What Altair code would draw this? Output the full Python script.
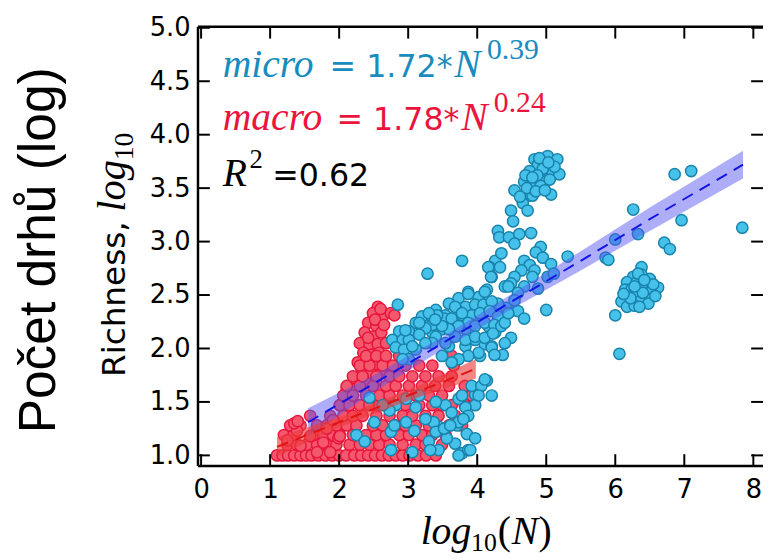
import altair as alt
import pandas as pd

# ---------------- data ----------------
micro_pts = [
    # upper cluster
    (4.83,3.77),(5.02,3.80),(5.16,3.77),(4.88,3.72),(5.00,3.72),(5.07,3.67),(4.76,3.66),(4.95,3.63),
    (5.09,3.63),(5.19,3.63),(4.68,3.56),(4.83,3.56),(4.97,3.56),(4.78,3.52),(4.92,3.52),(5.07,3.44),
    (4.54,3.48),(4.73,3.43),(4.80,3.43),(4.66,3.36),(4.49,3.29),(4.73,3.29),(4.52,3.19),(4.30,3.10),
    (4.32,3.04),(4.46,3.04),(4.61,3.07),(4.78,3.08),(4.54,2.98),(4.90,3.78),(4.95,3.68),(5.05,3.58),
    (4.87,3.62),(4.72,3.50),(4.85,3.47),(5.12,3.70),(4.98,3.48),(4.62,3.42),(4.70,3.62),(5.03,3.74),
    (4.80,3.60),
    # middle mass
    (4.92,2.95),(4.85,2.90),(4.95,2.85),(5.07,2.79),(4.68,2.82),(4.76,2.78),(4.83,2.73),(4.64,2.73),
    (4.54,2.67),(4.49,2.61),(4.40,2.58),(4.26,2.82),(4.35,2.89),(4.18,2.76),(4.21,2.67),(4.80,2.67),
    (4.88,2.56),(5.02,2.67),(5.11,2.70),(5.00,2.36),(4.68,2.58),(4.59,2.52),(4.49,2.35),(4.59,2.35),
    (4.42,2.38),(4.68,2.28),(4.30,2.42),(4.14,2.55),(4.03,2.48),(3.87,2.53),(3.73,2.47),(3.59,2.42),
    (3.83,2.39),(4.11,2.39),(4.30,2.24),(4.26,2.15),(4.49,2.10),(4.37,1.94),(4.11,2.04),(3.97,2.08),
    (3.71,2.36),(3.54,2.31),(3.40,2.36),(3.30,2.30),(3.20,2.25),(3.73,2.27),(4.07,2.30),(4.16,2.21),
    (3.83,2.18),(3.68,2.11),(3.49,2.18),(3.35,2.15),(3.59,2.02),(3.83,2.02),(4.04,1.93),(4.21,2.02),
    (3.35,2.22),(3.78,2.82),(3.28,2.70),(5.31,2.86),(4.16,2.76),(4.20,2.67),(4.33,2.76),
    (4.02,2.48),(4.11,2.53),(3.97,2.41),(4.09,2.41),(4.21,2.44),(3.68,2.39),(3.52,2.28),(3.63,2.28),
    (3.78,2.31),(3.92,2.31),(4.04,2.33),(4.18,2.35),(4.30,2.30),(3.87,2.24),(3.97,2.21),(4.11,2.24),
    (4.25,2.22),(3.73,2.21),(3.59,2.18),(3.49,2.21),(3.42,2.31),(3.11,2.24),(3.25,2.19),(3.01,2.16),
    (2.87,2.16),(2.77,2.08),(2.92,2.08),(3.01,2.08),(2.82,2.01),(2.94,1.99),(3.16,2.13),(3.40,2.11),
    (3.54,2.05),(3.83,2.08),(3.97,2.11),(4.11,2.10),(4.23,2.14),(4.35,2.21),(4.21,2.01),(4.02,1.96),
    (3.87,1.93),(3.73,1.90),(3.63,1.87),(3.49,1.93),(3.35,2.05),(3.25,2.05),(3.11,1.99),(3.01,1.90),
    (2.92,1.90),(2.85,2.41),(4.25,1.94),(2.96,2.17),(3.06,2.02),(3.20,2.30),(3.30,2.33),(3.16,2.24),
    (3.39,2.27),(3.78,2.33),(3.87,2.51),(4.45,2.58),(4.54,2.45),(4.40,2.24),(4.40,2.05),(4.45,2.33),
    # lower part
    (4.14,1.70),(4.21,1.56),(3.97,1.57),(3.97,1.47),(3.83,1.45),(3.87,1.37),(3.73,1.53),(3.54,1.47),
    (3.40,1.50),(3.63,1.40),(3.71,1.28),(3.85,1.20),(3.97,1.16),(3.68,1.11),(3.56,1.16),(3.44,1.27),
    (3.37,1.31),(3.25,1.34),(3.11,1.45),(3.16,1.56),(2.97,1.53),(2.82,1.47),(2.73,1.42),(2.63,1.47),
    (2.75,1.22),(2.97,1.31),(3.09,1.23),(3.40,1.22),(3.30,1.13),(3.52,1.25),(3.44,1.05),(3.32,1.05),
    (3.06,1.03),(3.78,1.02),(3.87,1.05),(2.75,1.05),(3.73,1.31),(3.61,1.28),(3.80,1.34),(3.92,1.65),
    (4.06,1.65),(4.11,1.71),(4.02,1.56),(3.78,1.56),(3.73,1.00),(3.90,1.05),(2.25,1.19),(2.37,1.13),
    (2.80,1.28),(2.44,1.54),(2.51,1.31),
    # right side
    (5.86,2.85),(5.90,2.83),(6.00,3.02),(6.26,3.30),(6.33,3.07),(6.86,3.63),(7.10,3.66),(6.96,3.20),
    (6.71,2.99),(6.79,2.93),(7.84,3.13),(6.00,2.31),(6.06,1.95),
    (6.38,2.76),(6.26,2.67),(6.38,2.69),(6.50,2.65),(6.17,2.62),(6.31,2.62),(6.45,2.61),(6.62,2.57),
    (6.14,2.55),(6.24,2.56),(6.38,2.58),(6.52,2.53),(6.19,2.49),(6.31,2.50),(6.45,2.47),(6.09,2.44),
    (6.24,2.42),(6.36,2.44),(6.48,2.42),(6.17,2.39),(6.28,2.40),(6.40,2.52),(6.55,2.60),(6.33,2.70),
    (6.22,2.47),(6.42,2.64),(6.28,2.58),(6.58,2.49),(6.12,2.51),(6.35,2.39),
]

macro_pts = [
    # tall column
    (2.56,2.39),(2.49,2.33),(2.63,2.30),(2.42,2.24),(2.54,2.21),(2.37,2.15),(2.49,2.11),(2.61,2.15),
    (2.30,2.05),(2.44,2.04),(2.56,2.04),(2.35,1.96),(2.46,1.94),(2.58,1.96),(2.27,1.87),(2.39,1.87),
    (2.51,1.85),(2.32,1.77),(2.46,1.77),(2.61,1.77),(2.25,1.68),(2.39,1.68),(2.54,1.68),(2.63,1.62),
    (2.11,1.62),(2.20,1.62),(2.08,1.56),(2.18,1.53),(2.01,1.47),(2.13,1.47),(2.75,2.33),(2.80,2.31),
    (2.60,2.37),(2.52,2.27),(2.65,2.22),(2.42,2.10),(2.68,2.05),(2.62,1.90),(2.70,1.85),
    # floor
    (1.10,1.00),(1.18,1.00),(1.26,1.00),(1.35,1.00),(1.44,1.00),(1.52,1.00),(1.60,1.00),(1.70,1.00),
    (1.80,1.00),(1.90,1.00),(2.00,1.00),(2.10,1.00),(2.22,1.00),(2.32,1.00),(2.42,1.00),(2.52,1.00),
    (2.62,1.00),(2.72,1.00),(2.82,1.00),(2.92,1.00),(3.02,1.00),(3.14,1.00),(3.26,1.00),(3.40,1.00),
    # rows
    (1.25,1.10),(1.39,1.10),(1.53,1.10),(1.68,1.10),(1.82,1.10),(1.96,1.10),(2.15,1.10),(2.30,1.10),
    (2.44,1.10),(2.58,1.10),(2.73,1.10),(2.92,1.10),(3.11,1.10),(3.25,1.10),(3.49,1.10),
    (1.20,1.19),(1.34,1.19),(1.63,1.19),(1.77,1.19),(1.91,1.19),(2.01,1.19),(2.20,1.19),(2.39,1.19),
    (2.54,1.19),(2.68,1.19),(2.87,1.19),(3.01,1.19),(3.20,1.19),(3.35,1.19),(3.54,1.19),
    (1.29,1.28),(1.44,1.28),(1.68,1.28),(1.82,1.28),(1.96,1.28),(2.11,1.28),(2.25,1.28),(2.49,1.28),
    (2.63,1.28),(2.82,1.28),(2.96,1.28),(3.11,1.28),(3.30,1.28),(3.59,1.28),(3.78,1.28),
    (1.58,1.37),(1.87,1.37),(2.06,1.37),(2.20,1.37),(2.34,1.37),(2.54,1.37),(2.73,1.37),(2.92,1.37),
    (3.06,1.37),(3.25,1.37),(3.44,1.37),(3.68,1.37),
    (2.01,1.47),(2.15,1.47),(2.30,1.47),(2.44,1.47),(2.58,1.47),(2.78,1.47),(2.96,1.47),(3.16,1.47),
    (3.35,1.47),(3.49,1.47),(3.63,1.47),(3.82,1.47),
    (2.06,1.56),(2.20,1.56),(2.39,1.56),(2.58,1.56),(2.73,1.56),(2.92,1.56),(3.11,1.56),(3.30,1.56),
    (3.49,1.56),(3.78,1.56),(3.92,1.56),
    (2.11,1.65),(2.30,1.65),(2.49,1.65),(2.68,1.65),(2.82,1.65),(3.01,1.65),(3.20,1.65),(3.39,1.65),
    (3.59,1.65),(3.82,1.65),
    (2.20,1.74),(2.34,1.74),(2.54,1.74),(2.73,1.74),(2.87,1.74),(3.06,1.74),(3.25,1.74),(3.44,1.74),
    (3.63,1.74),
    (2.30,1.84),(2.44,1.84),(2.63,1.84),(2.78,1.84),(2.96,1.84),(3.16,1.84),(3.35,1.84),(3.66,1.84),
    (2.39,1.93),(2.54,1.93),(2.68,1.93),(2.87,1.93),(3.63,1.93),
    # left group
    (1.39,1.23),(1.25,1.14),(1.44,1.09),(1.58,1.18),(1.77,1.12),(1.68,1.03),(1.87,1.03),(1.99,1.16),
    (1.82,1.25),(1.91,1.33),(2.01,1.18),(1.35,1.30),(1.40,1.32),
]

# regression lines and confidence bands
micro_fit_x = [1.55, 2.5, 3.5, 4.5, 5.5, 6.5, 7.85]
micro_fit_y = [1.31, 1.67, 2.05, 2.44, 2.82, 3.21, 3.72]
micro_fit_lo = [1.18, 1.59, 1.99, 2.37, 2.73, 3.10, 3.59]
micro_fit_hi = [1.44, 1.75, 2.11, 2.51, 2.91, 3.32, 3.85]

macro_fit_x = [1.1, 2.0, 3.0, 3.98]
macro_fit_y = [1.08, 1.31, 1.56, 1.81]
macro_fit_lo = [0.99, 1.26, 1.51, 1.72]
macro_fit_hi = [1.17, 1.36, 1.61, 1.90]

x_ticks = [0, 1, 2, 3, 4, 5, 6, 7, 8]
y_ticks = [1.0, 1.5, 2.0, 2.5, 3.0, 3.5, 4.0, 4.5, 5.0]

# ---------------- styling ----------------
W, H = 571, 444
C_MICRO_FILL, C_MICRO_EDGE = "#45c1ea", "#1883ab"
C_MACRO_FILL, C_MACRO_EDGE = "#f4586e", "#e8163c"
C_MICRO_TXT, C_MACRO_TXT = "#198cbe", "#eb143c"
SERIF, SANS = "Liberation Serif", "DejaVu Sans"

xs = alt.Scale(domain=[-0.045, 8.14], nice=False, zero=False)
ys = alt.Scale(domain=[0.9, 5.01], nice=False, zero=False)
xaxis = alt.Axis(values=x_ticks, format="d", ticks=False, domain=False, grid=False,
                 labelPadding=11, title=None, labelFontSize=26, labelFont=SANS, labelColor="black")
yaxis = alt.Axis(values=y_ticks, format=".1f", ticks=False, domain=False, grid=False,
                 labelPadding=8, title=None, labelFontSize=26, labelFont=SANS, labelColor="black")

micro_df = pd.DataFrame(micro_pts, columns=["x", "y"])
macro_df = pd.DataFrame(macro_pts, columns=["x", "y"])
micro_fit = pd.DataFrame({"x": micro_fit_x, "y": micro_fit_y, "lo": micro_fit_lo, "hi": micro_fit_hi})
macro_fit = pd.DataFrame({"x": macro_fit_x, "y": macro_fit_y, "lo": macro_fit_lo, "hi": macro_fit_hi})


def X(f="x"):
    return alt.X(f + ":Q", scale=xs, axis=xaxis)


def Y(f="y"):
    return alt.Y(f + ":Q", scale=ys, axis=yaxis)


macro_pts_layer = alt.Chart(macro_df).mark_circle(
    size=130, opacity=1, color=C_MACRO_FILL, stroke=C_MACRO_EDGE, strokeWidth=1.5
).encode(x=X(), y=Y())
micro_pts_layer = alt.Chart(micro_df).mark_circle(
    size=130, opacity=1, color=C_MICRO_FILL, stroke=C_MICRO_EDGE, strokeWidth=1.5
).encode(x=X(), y=Y())

micro_band = alt.Chart(micro_fit).mark_area(color="#5555f0", opacity=0.48).encode(
    x=X(), y=Y("lo"), y2="hi:Q")
macro_band = alt.Chart(macro_fit).mark_area(color="#ec3a3a", opacity=0.62).encode(
    x=X(), y=Y("lo"), y2="hi:Q")
micro_line = alt.Chart(micro_fit).mark_line(color="#1414e6", strokeWidth=2, strokeDash=[12, 8]).encode(
    x=X(), y=Y())
macro_line = alt.Chart(macro_fit).mark_line(color="#e01414", strokeWidth=2, strokeDash=[12, 8]).encode(
    x=X(), y=Y())

xt_df = pd.DataFrame({"v": x_ticks})
yt_df = pd.DataFrame({"v": y_ticks})
TL = 12
tick_style = dict(color="black", strokeWidth=2)
ticks = [
    alt.Chart(xt_df).mark_rule(**tick_style).encode(x=X("v"), y=alt.value(H), y2=alt.value(H - TL)),
    alt.Chart(xt_df).mark_rule(**tick_style).encode(x=X("v"), y=alt.value(0), y2=alt.value(TL)),
    alt.Chart(yt_df).mark_rule(**tick_style).encode(y=Y("v"), x=alt.value(0), x2=alt.value(TL)),
    alt.Chart(yt_df).mark_rule(**tick_style).encode(y=Y("v"), x=alt.value(W), x2=alt.value(W - TL)),
]
spine_style = dict(color="black", strokeWidth=2.5)
spines = [
    alt.Chart(xt_df.head(1)).mark_rule(**spine_style).encode(x=alt.value(0), y=alt.value(0), y2=alt.value(H)),
    alt.Chart(xt_df.head(1)).mark_rule(**spine_style).encode(x=alt.value(0), x2=alt.value(W), y=alt.value(0)),
    alt.Chart(xt_df.head(1)).mark_rule(**spine_style).encode(x=alt.value(0), x2=alt.value(W), y=alt.value(H)),
]


def txt(s, x, y, font=SANS, size=32, color="black", style="normal", angle=0, align="left"):
    return alt.Chart(pd.DataFrame({"t": [s]})).mark_text(
        font=font, fontSize=size, color=color, fontStyle=style, angle=angle,
        align=align, baseline="alphabetic"
    ).encode(text="t:N", x=alt.value(x), y=alt.value(y))


texts = [
    # equations
    txt("micro", 25, 51, SERIF, 40, C_MICRO_TXT, "italic"),
    txt("= 1.72*", 133, 51, SANS, 32, C_MICRO_TXT),
    txt("N", 259, 51, SERIF, 40, C_MICRO_TXT, "italic"),
    txt("0.39", 292, 33, SERIF, 30, C_MICRO_TXT),
    txt("macro", 25, 104, SERIF, 40, C_MACRO_TXT, "italic"),
    txt("= 1.78*", 140, 104, SANS, 32, C_MACRO_TXT),
    txt("N", 266, 104, SERIF, 40, C_MACRO_TXT, "italic"),
    txt("0.24", 299, 86, SERIF, 30, C_MACRO_TXT),
    txt("R", 25, 161, SERIF, 40, "black", "italic"),
    txt("2", 52, 143, SERIF, 27, "black"),
    txt("=0.62", 75, 161, SANS, 32, "black"),
    # x title
    txt("log", 225, 523, SERIF, 40, "black", "italic"),
    txt("10", 276, 530, SERIF, 26, "black"),
    txt("(", 303, 523, SERIF, 40, "black"),
    txt("N", 317, 523, SERIF, 40, "black", "italic"),
    txt(")", 344, 523, SERIF, 40, "black"),
    # y titles
    txt("Richness, ", -74, 354, SANS, 33, "black", angle=270),
    txt("log", -74, 187, SERIF, 41, "black", "italic", angle=270),
    txt("10", -66, 135, SERIF, 28, "black", angle=270),
    txt("Počet drhů (log)", -145, 226, "Liberation Sans", 52, "black", angle=270, align="center"),
]

chart = alt.layer(
    macro_pts_layer, micro_pts_layer, micro_band, macro_band, micro_line, macro_line,
    *ticks, *spines, *texts
).properties(
    width=W, height=H,
    autosize=alt.AutoSizeParams(type="none"),
    padding={"left": 192, "top": 16, "right": 0, "bottom": 92},
).configure_view(stroke=None)

chart.save("out.html", embed_options={"renderer": "svg", "actions": False})
